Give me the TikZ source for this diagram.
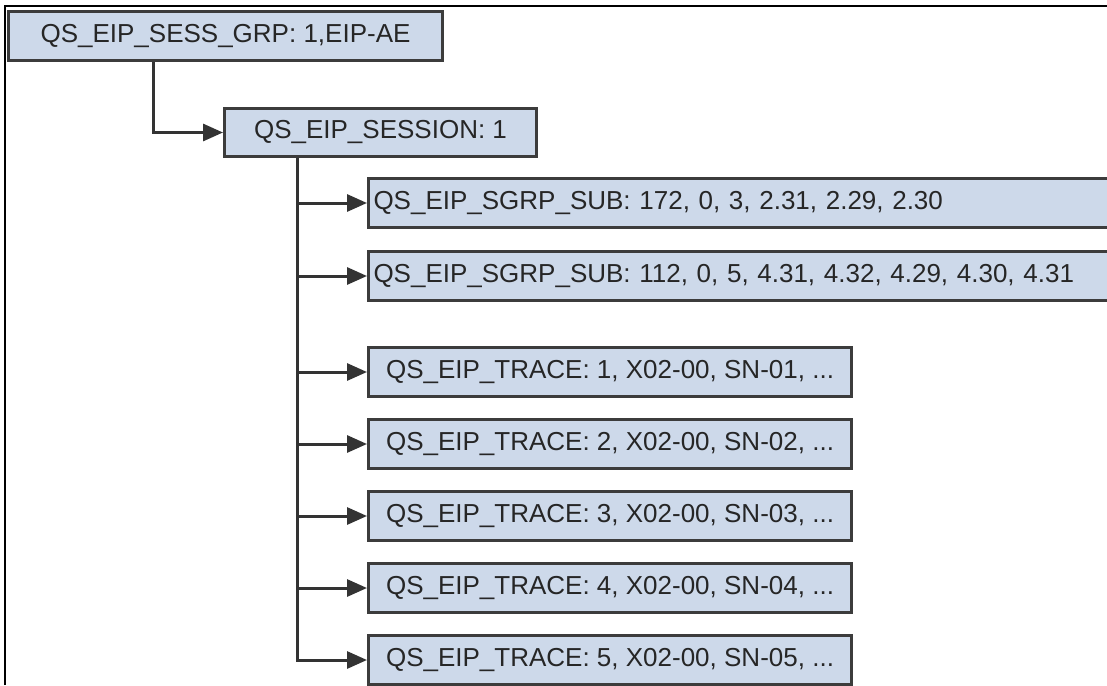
\documentclass[tikz,border=0pt]{standalone}
\usepackage{fontspec}
\setmainfont{Liberation Sans}
\usepackage{xcolor}
\usepackage{tikz}
\usetikzlibrary{arrows.meta,positioning,calc}
\definecolor{Edge}{HTML}{3C3C3C}
\definecolor{BoxFill}{HTML}{CDD9EA}
\definecolor{Ink}{HTML}{262626}
\definecolor{Wire}{HTML}{333333}
\tikzset{
  rec/.style={
    draw=Edge, fill=BoxFill, line width=3pt, text=Ink,
    inner sep=0pt, anchor=north west, minimum height=49pt,
    font=\fontsize{26}{30}\selectfont
  },
  recLeft/.style={rec,text width=760pt,align=left,inner xsep=5pt},
  arr/.style={-{Triangle[length=20pt,width=17pt]},line width=3pt,draw=Wire},
  frameline/.style={line width=1.8pt,draw=black}
}

\begin{document}
\begin{tikzpicture}[x=1pt,y=-1pt]
  \clip (0,0) rectangle (1107,685);
  \draw[frameline] (5,685) -- (5,6) -- (1107,6);
  \node[rec,minimum width=434pt] (grp) at (7,10) {QS\_EIP\_SESS\_GRP: 1,EIP-AE};
  \node[rec,minimum width=312pt,minimum height=48pt] (sess) at (223,107) {QS\_EIP\_SESSION: 1};
  \node[recLeft] (sgrpA) at (367,177) {QS\_EIP\_SGRP\_SUB: 172, 0, 3, 2.31, 2.29, 2.30};
  \node[recLeft] (sgrpB) at (367,250) {QS\_EIP\_SGRP\_SUB: 112, 0, 5, 4.31, 4.32, 4.29, 4.30, 4.31};
  \foreach \i in {1,...,5}
    \node[rec,minimum width=483pt] (trace\i) at (367,274+72*\i) {QS\_EIP\_TRACE: \i, X02-00, SN-0\i, ...};
  % connectors
  \coordinate (grpfoot) at ([xshift=-72pt]grp.south);
  \coordinate (trunk) at ([xshift=-83pt]sess.south);
  \draw[arr] (grpfoot) |- (sess.west);
  \foreach \t in {sgrpA,sgrpB,trace1,trace2,trace3,trace4,trace5}
    \draw[arr] (trunk) |- (\t.west);
\end{tikzpicture}
\end{document}
